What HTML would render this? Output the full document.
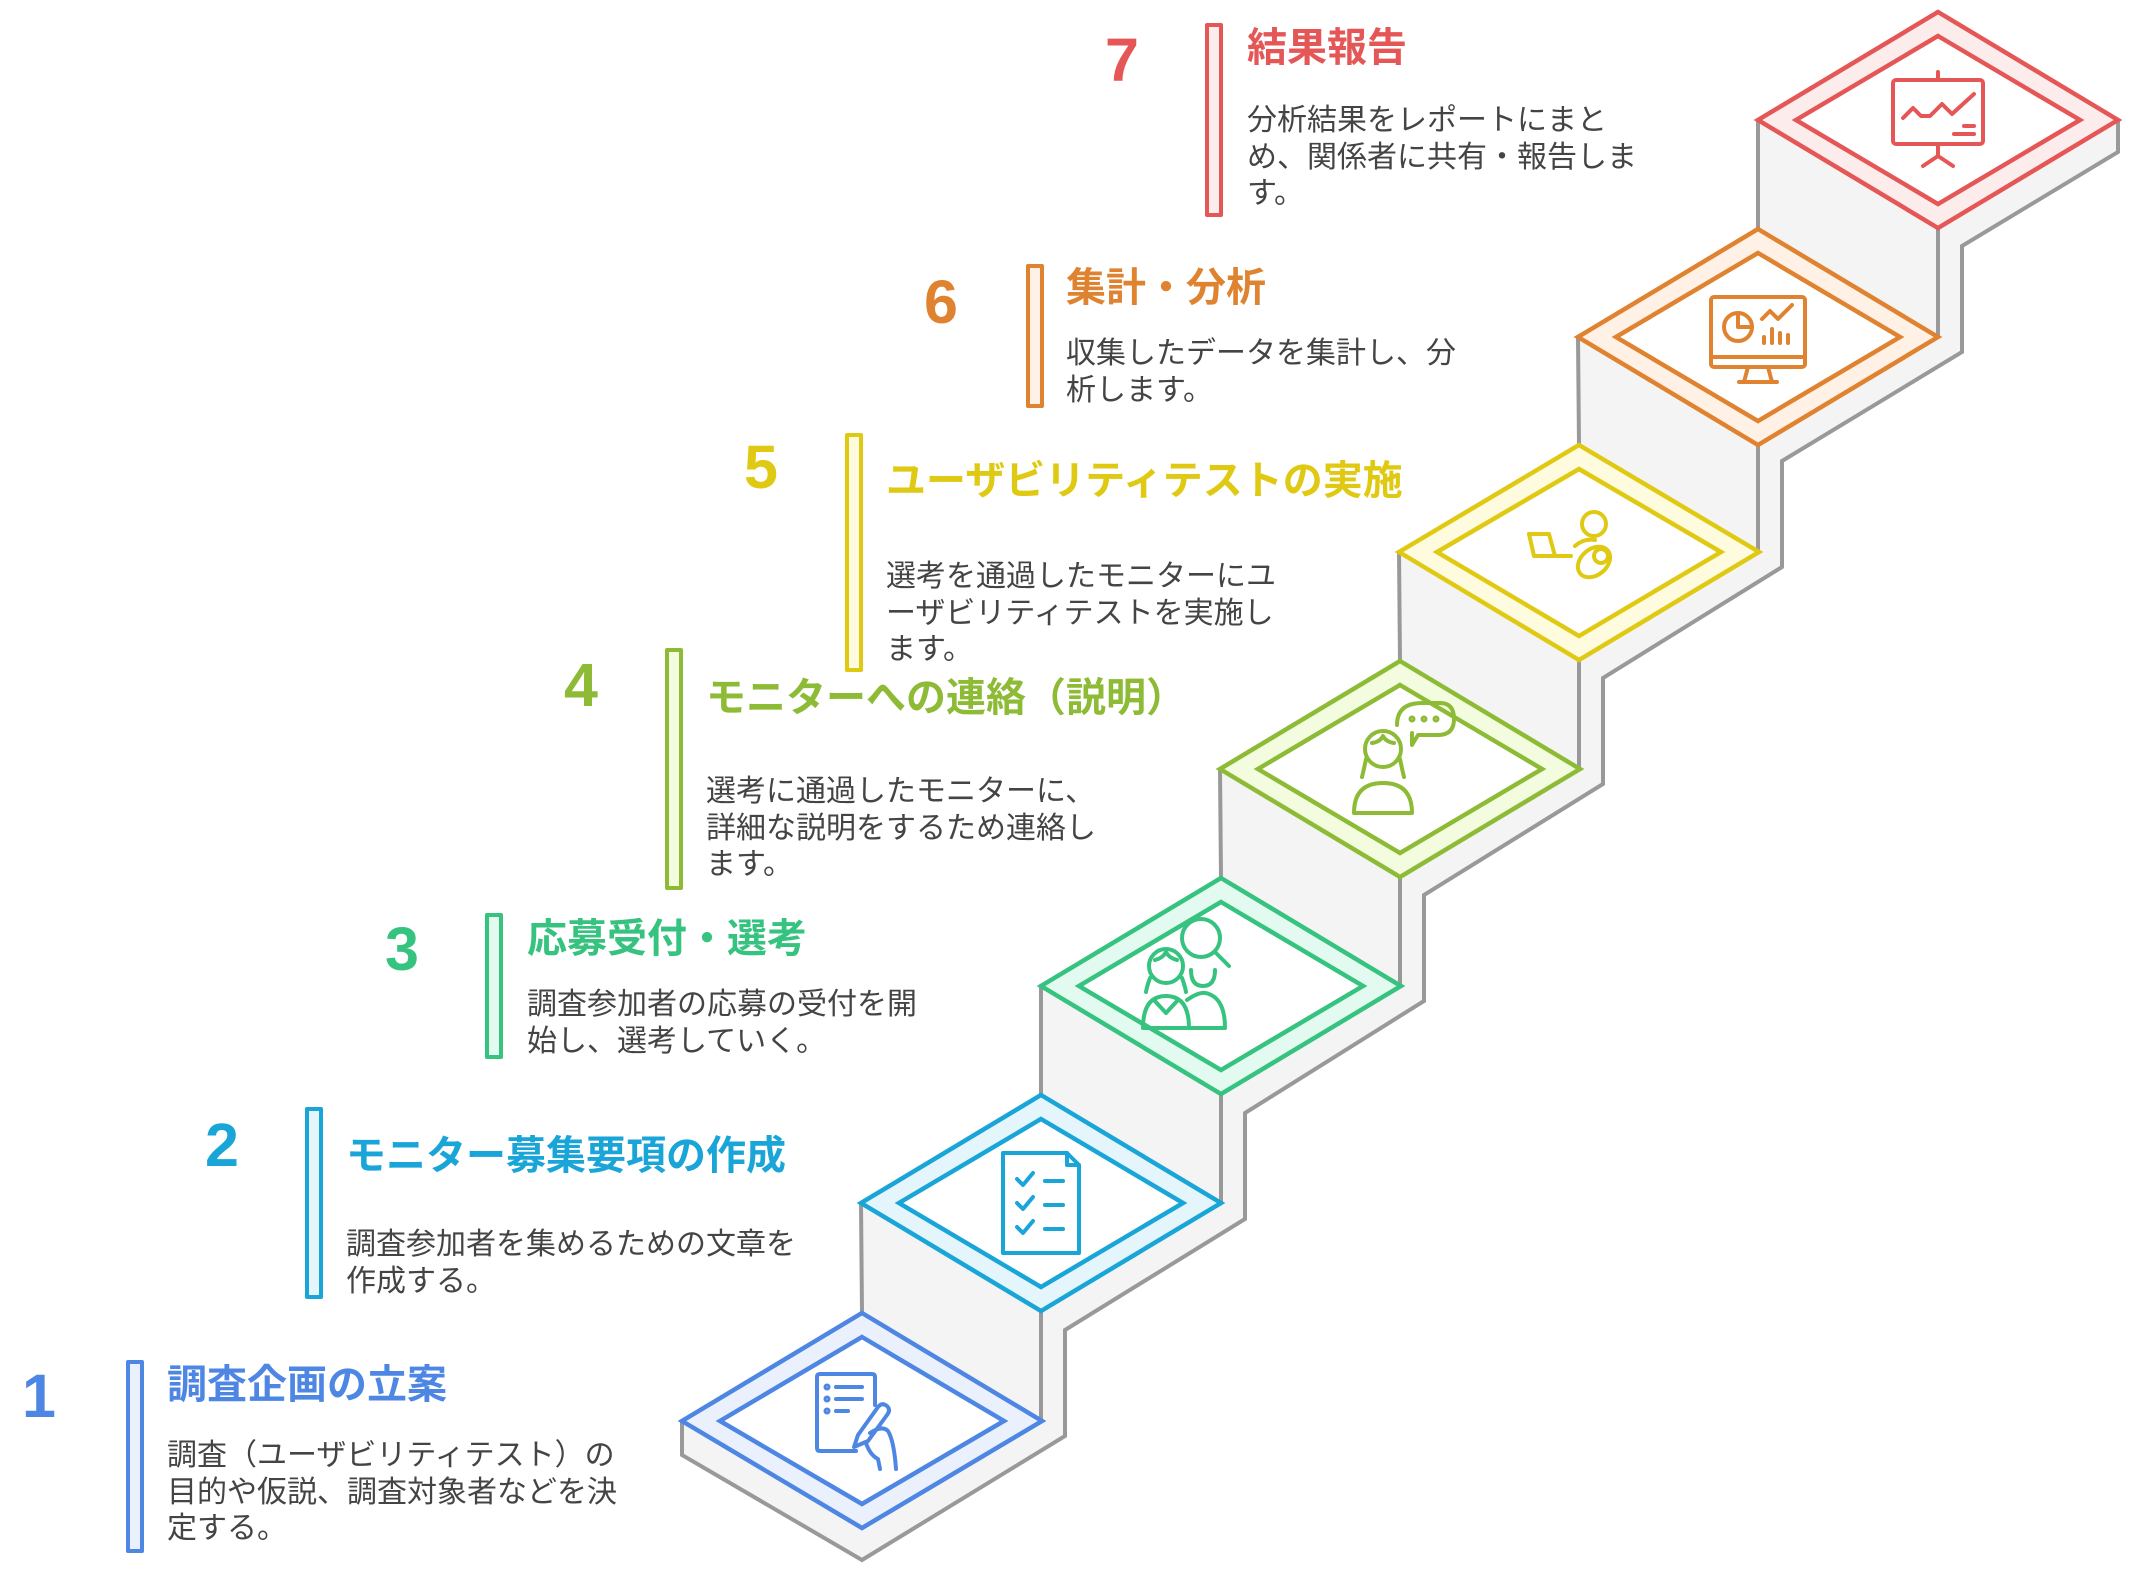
<!DOCTYPE html>
<html><head><meta charset="utf-8">
<style>
html,body{margin:0;padding:0;background:#fff;}
body{width:2140px;height:1574px;position:relative;overflow:hidden;font-family:"Liberation Sans","Noto Sans CJK JP",sans-serif;}
.n{position:absolute;font-family:"Liberation Sans",sans-serif;font-weight:bold;font-size:61px;line-height:61px;}
.b{position:absolute;width:10px;border:4px solid;border-radius:2px;}
.t{position:absolute;font-family:"Liberation Sans","Noto Sans CJK JP",sans-serif;font-weight:bold;font-size:40px;line-height:50px;white-space:nowrap;}
.d{position:absolute;font-family:"Liberation Sans","Noto Sans CJK JP",sans-serif;font-size:30px;line-height:36.5px;color:#444;white-space:nowrap;}
svg{position:absolute;left:0;top:0;}
</style></head><body>
<svg width="2140" height="1574" viewBox="0 0 2140 1574">
<polygon fill="#f4f4f4" stroke="#999" stroke-width="4" stroke-linejoin="miter" points="682,1421 682,1455 862,1560 1065,1436 1065,1330 1245,1219 1245,1113 1424,1001 1424,895 1603,784 1603,678 1782,567 1782,461 1962,352 1962,246 2118,152 2118,120 1938,12 1758,120 1758,229 1578,337 1579,445 1399,552 1400,661 1220,769 1221,878 1041,986 1041,1095 861,1203 862,1313"/>
<g stroke="#999" stroke-width="4">
<line x1="1041" y1="1311" x2="1041" y2="1421"/>
<line x1="1221" y1="1094" x2="1221" y2="1203"/>
<line x1="1400" y1="877" x2="1400" y2="986"/>
<line x1="1579" y1="660" x2="1579" y2="769"/>
<line x1="1758" y1="445" x2="1758" y2="552"/>
<line x1="1938" y1="228" x2="1938" y2="337"/>
</g>
<g stroke-width="4.5" stroke-linejoin="miter">
<polygon points="862,1313 1042,1421 862,1528 682,1421" fill="#ebf1fc" stroke="#4e86e4"/>
<polygon points="862,1337 1004,1421 862,1504 720,1421" fill="#fff" stroke="#4e86e4"/>
<polygon points="1041,1095 1221,1203 1041,1311 861,1203" fill="#e4f6fc" stroke="#1aa5d8"/>
<polygon points="1041,1119 1183,1203 1041,1287 899,1203" fill="#fff" stroke="#1aa5d8"/>
<polygon points="1221,878 1401,986 1221,1094 1041,986" fill="#e2faef" stroke="#36c27f"/>
<polygon points="1221,902 1363,986 1221,1070 1079,986" fill="#fff" stroke="#36c27f"/>
<polygon points="1400,661 1580,769 1400,877 1220,769" fill="#f3fcdf" stroke="#8dbb36"/>
<polygon points="1400,685 1542,769 1400,853 1258,769" fill="#fff" stroke="#8dbb36"/>
<polygon points="1579,445 1759,552 1579,660 1399,552" fill="#fffbdf" stroke="#e0c912"/>
<polygon points="1579,469 1721,552 1579,636 1437,552" fill="#fff" stroke="#e0c912"/>
<polygon points="1758,229 1938,337 1758,445 1578,337" fill="#fff1e5" stroke="#e08330"/>
<polygon points="1758,253 1900,337 1758,421 1616,337" fill="#fff" stroke="#e08330"/>
<polygon points="1938,12 2118,120 1938,228 1758,120" fill="#fdecec" stroke="#e55757"/>
<polygon points="1938,36 2080,120 1938,204 1796,120" fill="#fff" stroke="#e55757"/>
</g>
<g fill="none" stroke-width="4" stroke-linecap="round" stroke-linejoin="round">
<g stroke="#4e86e4" transform="translate(862,1421)">
<path d="M-6,30 L-42,30 Q-45,30 -45,27 L-45,-44 Q-45,-47 -42,-47 L10,-47 Q13,-47 13,-44 L13,-16"/>
<circle cx="-35" cy="-34" r="1.5"/><circle cx="-35" cy="-22" r="1.5"/><circle cx="-35" cy="-10" r="1.5"/>
<line x1="-26" y1="-34" x2="0" y2="-34"/><line x1="-26" y1="-22" x2="0" y2="-22"/><line x1="-26" y1="-10" x2="-14" y2="-10"/>
<path d="M-8,26 L-4,14 L16,-14 Q20,-19 25,-15 Q29,-11 25,-6 L6,20 Z"/>
<path d="M8,12 Q20,4 26,10 Q32,20 34,48"/><path d="M4,22 Q8,34 16,38 L18,48"/>
</g>
<g stroke="#1aa5d8" transform="translate(1041,1203)">
<path d="M-38,-50 L26,-50 L38,-38 L38,50 L-38,50 Z"/><path d="M26,-50 L26,-38 L38,-38"/>
<path d="M-24,-24 L-18,-18 L-8,-30"/><line x1="4" y1="-22" x2="22" y2="-22"/>
<path d="M-24,0 L-18,6 L-8,-6"/><line x1="4" y1="2" x2="22" y2="2"/>
<path d="M-24,24 L-18,30 L-8,18"/><line x1="4" y1="26" x2="22" y2="26"/>
</g>
<g stroke="#36c27f" transform="translate(1221,986)">
<circle cx="-55" cy="-20" r="17"/><path d="M-71,-8 Q-74,0 -75,6"/><path d="M-39,-8 Q-36,0 -35,6"/><path d="M-66,-26 Q-58,-28 -55,-34 Q-52,-28 -44,-26"/>
<path d="M-78,42 Q-78,10 -55,10 Q-32,10 -32,42 Z"/><path d="M-67,14 L-55,27 L-43,14"/>
<circle cx="-20" cy="-48" r="19"/><line x1="-6" y1="-34" x2="8" y2="-20"/>
<path d="M-30,-16 Q-30,0 -18,0 Q-6,0 -6,-16"/><path d="M-34,14 Q-20,4 -12,8 Q4,14 4,42 L-32,42"/>
</g>
<g stroke="#8dbb36" transform="translate(1400,769)">
<circle cx="-17" cy="-20" r="18"/><path d="M-34,-10 Q-36,0 -38,8"/><path d="M0,-10 Q2,0 4,8"/><path d="M-28,-26 Q-20,-27 -17,-33 Q-14,-27 -6,-26"/>
<path d="M-46,44 Q-46,14 -17,14 Q12,14 12,44 Z"/>
<path d="M-3,-44 Q-3,-66 22,-66 L40,-66 Q54,-66 54,-50 Q54,-34 38,-34 L18,-34 L12,-24 L12,-36"/>
<circle cx="12" cy="-50" r="1.5"/><circle cx="24" cy="-50" r="1.5"/><circle cx="36" cy="-50" r="1.5"/>
</g>
<g stroke="#e0c912" transform="translate(1579,552)">
<circle cx="15" cy="-28" r="12"/>
<path d="M-4,-6 Q5,-14 16,-12"/>
<path d="M-50,-18 L-30,-18 L-24,4 L-8,4"/><path d="M-50,-18 L-45,4 L-24,4"/>
<ellipse cx="15" cy="10" rx="18" ry="13" transform="rotate(-40 15 10)"/>
<circle cx="22" cy="4" r="7"/>
</g>
<g stroke="#e08330" transform="translate(1758,337)">
<rect x="-47" y="-40" width="94" height="70" rx="3"/><line x1="-47" y1="20" x2="47" y2="20"/>
<path d="M-10,30 L-14,45 M10,30 L14,45 M-19,45 L19,45"/>
<circle cx="-20" cy="-10" r="14"/><path d="M-20,-24 L-20,-10 L-6,-10"/>
<path d="M4,-18 L12,-26 L20,-18 L34,-32"/>
<line x1="6" y1="0" x2="6" y2="6"/><line x1="14" y1="-8" x2="14" y2="6"/><line x1="22" y1="-4" x2="22" y2="6"/><line x1="30" y1="-2" x2="30" y2="6"/>
</g>
<g stroke="#e55757" transform="translate(1938,120)">
<rect x="-45" y="-40" width="90" height="64" rx="3"/><line x1="0" y1="-48" x2="0" y2="-40"/>
<path d="M0,24 L0,36 M-15,46 L0,36 L15,46"/>
<path d="M-35,-2 L-25,-12 L-17,-4 L-8,-4 L4,-16 L14,-6 L36,-26"/>
<line x1="26" y1="6" x2="36" y2="6"/><line x1="16" y1="14" x2="36" y2="14"/>
</g>
</g>
</svg>

<div class="n" style="left:22px;top:1366px;color:#4e86e4">1</div>
<div class="b" style="left:126px;top:1360px;height:185px;border-color:#4e86e4;background:#ebf1fc"></div>
<div class="t" style="left:167px;top:1360px;color:#4e86e4">調査企画の立案</div>
<div class="d" style="left:167px;top:1438px">調査（ユーザビリティテスト）の<br>目的や仮説、調査対象者などを決<br>定する。</div>

<div class="n" style="left:205px;top:1115px;color:#1aa5d8">2</div>
<div class="b" style="left:305px;top:1107px;height:184px;border-color:#1aa5d8;background:#e4f6fc"></div>
<div class="t" style="left:346px;top:1131px;color:#1aa5d8">モニター募集要項の作成</div>
<div class="d" style="left:346px;top:1227px">調査参加者を集めるための文章を<br>作成する。</div>

<div class="n" style="left:385px;top:919px;color:#36c27f">3</div>
<div class="b" style="left:485px;top:913px;height:138px;border-color:#36c27f;background:#e2faef"></div>
<div class="t" style="left:527px;top:914px;color:#36c27f">応募受付・選考</div>
<div class="d" style="left:527px;top:987px">調査参加者の応募の受付を開<br>始し、選考していく。</div>

<div class="n" style="left:564px;top:655px;color:#8dbb36">4</div>
<div class="b" style="left:665px;top:648px;height:234px;border-color:#8dbb36;background:#f3fcdf"></div>
<div class="t" style="left:706px;top:673px;color:#8dbb36">モニターへの連絡（説明）</div>
<div class="d" style="left:706px;top:774px">選考に通過したモニターに、<br>詳細な説明をするため連絡し<br>ます。</div>

<div class="n" style="left:744px;top:437px;color:#e0c912">5</div>
<div class="b" style="left:845px;top:433px;height:231px;border-color:#e0c912;background:#fffbdf"></div>
<div class="t" style="left:886px;top:456px;color:#e0c912">ユーザビリティテストの実施</div>
<div class="d" style="left:886px;top:559px">選考を通過したモニターにユ<br>ーザビリティテストを実施し<br>ます。</div>

<div class="n" style="left:924px;top:272px;color:#e08330">6</div>
<div class="b" style="left:1026px;top:264px;height:136px;border-color:#e08330;background:#fff1e5"></div>
<div class="t" style="left:1066px;top:263px;color:#e08330">集計・分析</div>
<div class="d" style="left:1066px;top:336px">収集したデータを集計し、分<br>析します。</div>

<div class="n" style="left:1105px;top:30px;color:#e55757">7</div>
<div class="b" style="left:1205px;top:23px;height:186px;border-color:#e55757;background:#fdecec"></div>
<div class="t" style="left:1247px;top:23px;color:#e55757">結果報告</div>
<div class="d" style="left:1247px;top:103px">分析結果をレポートにまと<br>め、関係者に共有・報告しま<br>す。</div>
</body></html>
